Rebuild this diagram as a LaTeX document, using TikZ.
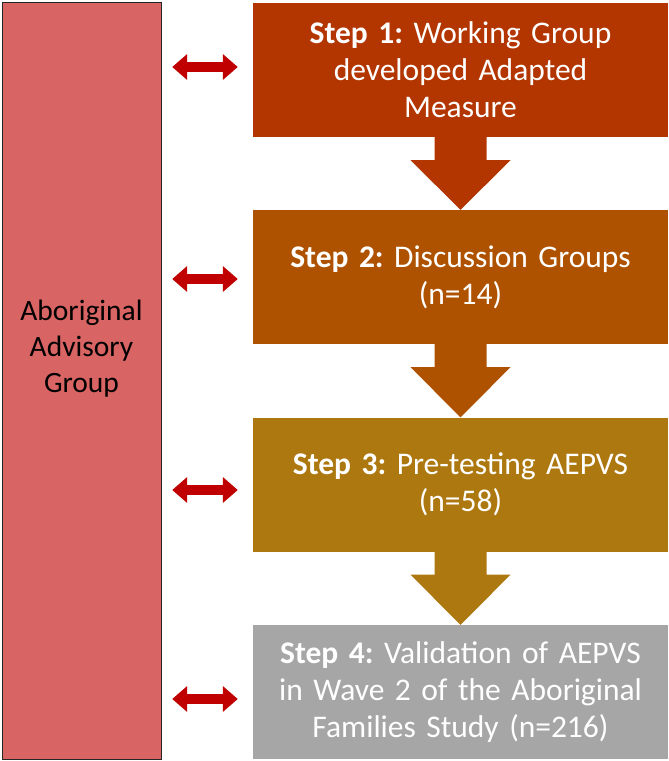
\documentclass[tikz,border=0pt]{standalone}
\usepackage{fontspec}
\setmainfont{Carlito}
\usetikzlibrary{arrows.meta, calc}

\definecolor{advred}{HTML}{D96464}
\definecolor{stepone}{HTML}{B33500}
\definecolor{steptwo}{HTML}{AE5200}
\definecolor{stepthree}{HTML}{AD7810}
\definecolor{stepfour}{HTML}{A6A6A6}
\definecolor{linkred}{HTML}{C00000}

\tikzset{
  stepbox/.style={fill=#1, text=white, minimum width=415pt, minimum height=134pt,
    text width=410pt, align=center, inner sep=0pt, font=\fontsize{31.5}{37}\selectfont},
  twoway/.style={draw=linkred, line width=10pt,
    {Triangle[length=15pt,width=25pt]}-{Triangle[length=15pt,width=25pt]}},
}

\begin{document}
\frenchspacing
\begin{tikzpicture}[x=1pt, y=-1pt]
    \useasboundingbox (0,0) rectangle (669,761);

    \node[draw=black!85, fill=advred, minimum width=159pt, minimum height=757pt, inner sep=0pt] (adv) at (81.5,380.5) {};
    \node[align=center, font=\fontsize{29.5}{36}\selectfont] (advtext) at (81.5,349) {Aboriginal\\Advisory\\Group};

    \node[stepbox=stepone] (s1) at (460.5,70) {\textbf{Step 1:} Working Group\\developed Adapted\\Measure};
    \node[stepbox=steptwo] (s2) at (460.5,277) {\textbf{Step 2:} Discussion Groups\\(n=14)};
    \node[stepbox=stepthree] (s3) at (460.5,484.5) {\textbf{Step 3:} Pre-testing AEPVS\\(n=58)};
    \node[stepbox=stepfour] (s4) at (460.5,692) {\textbf{Step 4:} Validation of AEPVS\\in Wave 2 of the Aboriginal\\Families Study (n=216)};

    % block arrows between the steps
    \foreach \a/\b/\c in {s1/s2/stepone, s2/s3/steptwo, s3/s4/stepthree} {
        \fill[\c] ($(\a.south)+(-26,0)$) -- ($(\a.south)+(26,0)$) -- ($(\a.south)+(26,23)$) -- ($(\a.south)+(50,23)$)
            -- (\b.north) -- ($(\a.south)+(-50,23)$) -- ($(\a.south)+(-26,23)$) -- cycle;
    }

    % links to the advisory group
    \foreach \s/\d in {s1/-3, s2/2, s3/5.5, s4/7} {
        \draw[twoway, shorten <=11pt, shorten >=15pt] ($(adv.east |- \s.west)+(0,\d)$) -- ($(\s.west)+(0,\d)$);
    }
\end{tikzpicture}
\end{document}
